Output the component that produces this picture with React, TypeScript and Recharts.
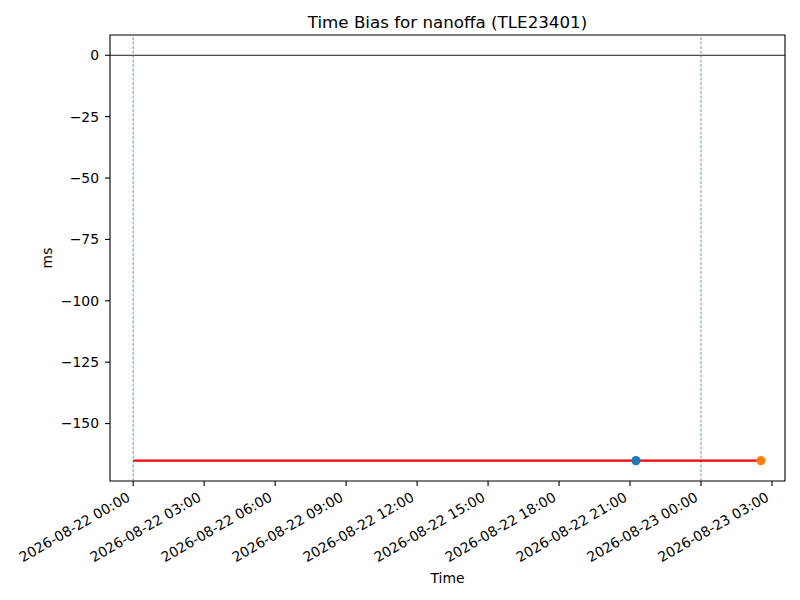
import { ComposedChart, Label, Line, ReferenceArea, ReferenceLine, Scatter, XAxis, YAxis } from "recharts";

const HOUR = 3600 * 1000;
const BASE = Date.UTC(2026, 7, 22, 0, 0);

// red bias line, start to end of the run
const biasLine = [
  { t: Date.UTC(2026, 7, 22, 0, 0), v: -165.1 },
  { t: Date.UTC(2026, 7, 23, 2, 32), v: -165.1 },
];
const firstPoint = [{ t: Date.UTC(2026, 7, 22, 21, 15), v: -165.1 }];
const lastPoint = [{ t: Date.UTC(2026, 7, 23, 2, 32), v: -165.1 }];
const dayMarks = [Date.UTC(2026, 7, 22, 0, 0), Date.UTC(2026, 7, 23, 0, 0)];
const xTicks = [0, 3, 6, 9, 12, 15, 18, 21, 24, 27].map((h) => BASE + h * HOUR);
const yTicks = [-150, -125, -100, -75, -50, -25, 0];

const X_DOMAIN = [BASE - 0.98 * HOUR, BASE + 27.55 * HOUR];
const Y_DOMAIN = [-173.4, 8.26];
const FONT = "DejaVu Sans, sans-serif";

const pad = (n: number) => String(n).padStart(2, "0");
const fmtTime = (ms: number) => {
  const d = new Date(ms);
  return `${d.getUTCFullYear()}-${pad(d.getUTCMonth() + 1)}-${pad(d.getUTCDate())} ${pad(d.getUTCHours())}:${pad(
    d.getUTCMinutes()
  )}`;
};
const fmtY = (v: number) => (v < 0 ? `\u2212${Math.abs(v)}` : `${v}`);

function TimeTick(props: any) {
  const { x, y, payload } = props;
  return (
    <text
      x={0}
      y={0}
      transform={`translate(${x - 2},${y + 12}) rotate(-30)`}
      textAnchor="end"
      fontFamily={FONT}
      fontSize={13.9}
      fill="#000"
    >
      {fmtTime(payload.value)}
    </text>
  );
}

const dot = (color: string) => (p: any) => <circle cx={p.cx} cy={p.cy} r={4.6} fill={color} />;

export default function App() {
  return (
    <div style={{ position: "absolute", left: 0, top: 0, width: 800, height: 600, background: "#fff" }}>
      <ComposedChart width={800} height={600} margin={{ top: 35, right: 15, bottom: 19, left: 30 }}>
        <XAxis
          dataKey="t"
          type="number"
          domain={X_DOMAIN}
          allowDataOverflow
          ticks={xTicks}
          tick={<TimeTick />}
          tickSize={5}
          tickMargin={2}
          axisLine={false}
          tickLine={{ stroke: "#000", strokeWidth: 1.1 }}
          height={100}
          interval={0}
        >
          <Label
            content={() => (
              <text x={447.5} y={583} textAnchor="middle" fontFamily={FONT} fontSize={13.9} fill="#000">
                Time
              </text>
            )}
          />
        </XAxis>
        <YAxis
          dataKey="v"
          type="number"
          domain={Y_DOMAIN}
          allowDataOverflow
          ticks={yTicks}
          tickFormatter={fmtY}
          tickSize={5}
          tickMargin={6}
          axisLine={false}
          tickLine={{ stroke: "#000", strokeWidth: 1.1 }}
          tick={{ fill: "#000", fontFamily: FONT, fontSize: 13.9 }}
          width={80}
          interval={0}
        >
          <Label
            content={() => (
              <g>
                <text
                  x={0}
                  y={0}
                  transform="translate(52,258) rotate(-90)"
                  textAnchor="middle"
                  fontFamily={FONT}
                  fontSize={13.9}
                  fill="#000"
                >
                  ms
                </text>
                <text x={447.5} y={28} textAnchor="middle" fontFamily={FONT} fontSize={16.7} fill="#000">
                  Time Bias for nanoffa (TLE23401)
                </text>
              </g>
            )}
          />
        </YAxis>
        <ReferenceLine y={0} stroke="#000" strokeWidth={0.9} />
        <ReferenceLine x={dayMarks[0]} stroke="#2a86cc" strokeWidth={0.8} strokeDasharray="3 1.5" />
        <ReferenceLine x={dayMarks[1]} stroke="#4f7ea8" strokeWidth={0.8} strokeDasharray="3 1.5" />
        <Line
          data={biasLine}
          dataKey="v"
          stroke="#ff0000"
          strokeWidth={2.1}
          dot={false}
          activeDot={false}
          isAnimationActive={false}
        />
        <Scatter data={firstPoint} dataKey="v" shape={dot("#1f77b4")} isAnimationActive={false} />
        <Scatter data={lastPoint} dataKey="v" shape={dot("#ff7f0e")} isAnimationActive={false} />
        <ReferenceArea
          x1={X_DOMAIN[0]}
          x2={X_DOMAIN[1]}
          y1={Y_DOMAIN[0]}
          y2={Y_DOMAIN[1]}
          fill="none"
          stroke="#000"
          strokeWidth={1.1}
          ifOverflow="visible"
        />
      </ComposedChart>
    </div>
  );
}
